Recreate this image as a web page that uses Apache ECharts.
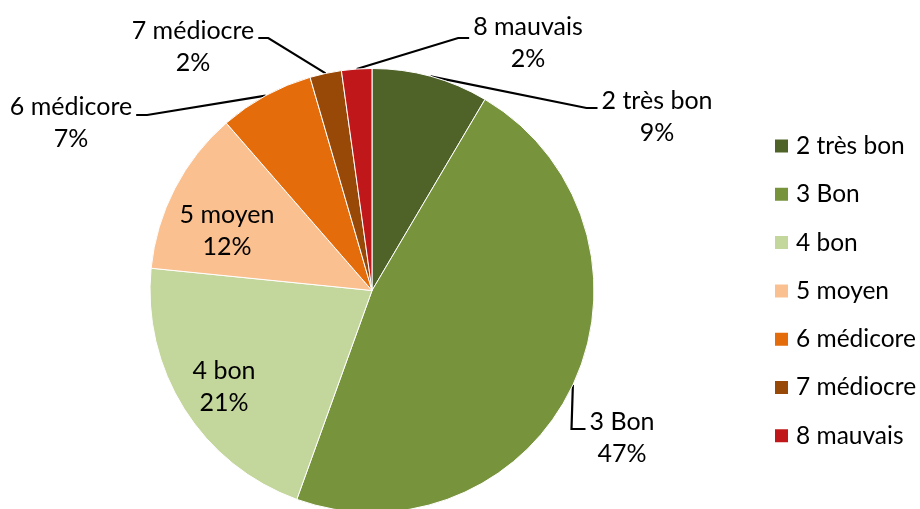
<!DOCTYPE html>
<html>
<head>
<meta charset="utf-8">
<script src="https://cdn.jsdelivr.net/npm/echarts@6/dist/echarts.min.js"></script>
<style>
html,body{margin:0;padding:0;background:#fff;}
#c{width:920px;height:509px;}
</style>
</head>
<body>
<div id="c"></div>
<script>
// ---- data ----
const categories = ['2 très bon', '3 Bon', '4 bon', '5 moyen', '6 médicore', '7 médiocre', '8 mauvais'];
const values = [8.5, 47, 21.1, 12, 6.9, 2.3, 2.2];
const colors = ['#4F6228', '#77933C', '#C3D69B', '#FAC090', '#E46C0A', '#984807', '#C0181A'];
const insideLabel = [false, false, true, true, false, false, false];

// ---- label placement (layout only) ----
const labelPlacement = [
  { x: 657, y: 117, side: 'right', dy: -9, h: 11 },
  { x: 622, y: 438, side: 'right', dy: -9, h: 14 },
  { x: 224, y: 387 },
  { x: 227, y: 231 },
  { x: 71, y: 123, side: 'left', dy: -8, h: 11 },
  { x: 193, y: 47, side: 'left', dy: -9, h: 10 },
  { x: 528, y: 43, side: 'right', dy: -5, h: 11 }
];

const FONT = 'Lato';

const chart = echarts.init(document.getElementById('c'), null, { renderer: 'canvas' });

const seriesData = categories.map((name, i) => ({
  name: name,
  value: values[i],
  itemStyle: { color: colors[i] },
  label: { position: insideLabel[i] ? 'inside' : 'outside' },
  labelLine: { show: !insideLabel[i] }
}));

chart.setOption({
  animation: false,
  backgroundColor: '#ffffff',
  legend: {
    orient: 'vertical',
    left: 773,
    top: 131,
    padding: 0,
    itemWidth: 15,
    itemHeight: 15,
    itemGap: 18.3,
    icon: 'rect',
    selectedMode: false,
    textStyle: { fontFamily: FONT, fontSize: 24.5, lineHeight: 30, color: '#000', padding: [0, 0, 0, 2] },
    data: categories
  },
  series: [{
    type: 'pie',
    center: [372, 290.5],
    radius: 222,
    startAngle: 90,
    clockwise: true,
    avoidLabelOverlap: false,
    percentPrecision: 0,
    itemStyle: { borderColor: '#ffffff', borderWidth: 1 },
    emphasis: { disabled: true },
    label: {
      show: true,
      formatter: '{b}\n{d}%',
      fontFamily: FONT,
      fontSize: 25,
      lineHeight: 32,
      color: '#000'
    },
    labelLine: {
      show: true,
      length: 15,
      length2: 15,
      smooth: false,
      lineStyle: { color: '#000', width: 2.2 }
    },
    labelLayout: function (params) {
      const p = labelPlacement[params.dataIndex];
      const out = { x: p.x, y: p.y, align: 'center', verticalAlign: 'middle' };
      if (p.side && params.labelLinePoints && params.labelLinePoints.length) {
        const start = params.labelLinePoints[0];
        const half = params.labelRect.width / 2;
        const sign = p.side === 'right' ? -1 : 1;
        const endX = p.x + sign * (half + 4);
        const endY = p.y + p.dy;
        out.labelLinePoints = [start, [endX + sign * p.h, endY], [endX, endY]];
      }
      return out;
    },
    data: seriesData
  }]
});
</script>
</body>
</html>
